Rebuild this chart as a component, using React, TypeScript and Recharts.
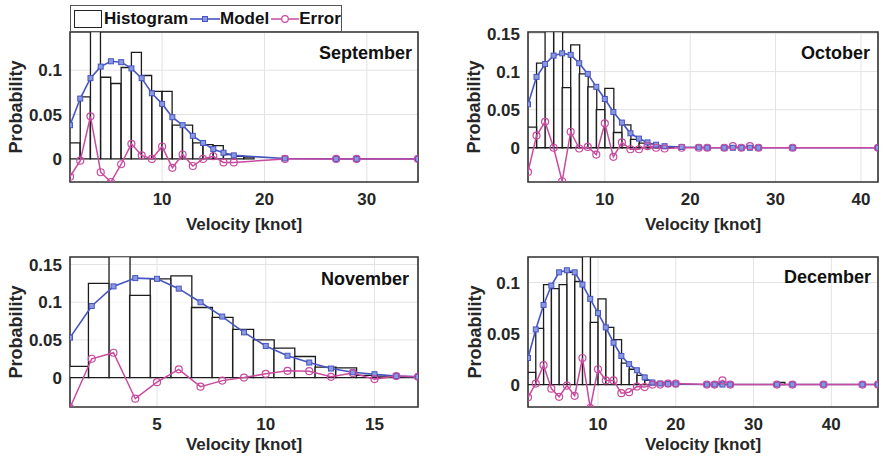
import React from 'react'
import { Bar, CartesianGrid, ComposedChart, Line, ReferenceArea, XAxis, YAxis } from 'recharts'

const FONT = '"Liberation Sans", Arial, Helvetica, sans-serif'
const INK = '#262626'
const BLUE = '#4655c2'
const MAGENTA = '#c94a9f'

// September
const SEP_VELOCITY = [1, 2, 3, 4, 5, 6, 7, 8, 9, 10, 11, 12, 13, 14, 15, 16, 17, 22, 27, 29, 35]
const SEP_MODEL = [0.038, 0.068, 0.091, 0.104, 0.11, 0.109, 0.102, 0.091, 0.074, 0.062, 0.047, 0.038, 0.026, 0.018, 0.011, 0.007, 0.004, 0.0005, 0, 0, 0]
const SEP_ERROR = [-0.02, -0.002, 0.048, -0.015, -0.026, -0.006, 0.017, 0.004, 0, 0.014, -0.01, 0.005, -0.008, 0, 0.003, -0.004, -0.004, 0, 0, 0, 0]
const SEP_BINS = [1.5, 2.5, 3.5, 4.5, 5.5, 6.5, 7.5, 8.5, 9.5, 10.5, 11.5, 12.5, 13.5, 14.5, 15.5, 16.5, 17.5, 18.5]
const SEP_HIST = [0.018, 0.07, 0.16, 0.092, 0.085, 0.103, 0.12, 0.094, 0.076, 0.076, 0.038, 0.038, 0.018, 0.016, 0.015, 0.005, 0.003, 0.002]

// October
const OCT_VELOCITY = [1, 2, 3, 4, 5, 6, 7, 8, 9, 10, 11, 12, 13, 14, 15, 16, 17, 19, 21, 22, 24, 25, 26, 27, 28, 32, 42]
const OCT_MODEL = [0.057, 0.093, 0.11, 0.121, 0.124, 0.122, 0.111, 0.097, 0.08, 0.064, 0.047, 0.033, 0.019, 0.012, 0.007, 0.004, 0.002, 0.001, 0.0005, 0, 0, 0, 0, 0, 0, 0, 0]
const OCT_ERROR = [-0.032, 0.016, 0.034, 0, -0.044, 0.021, -0.001, 0.001, -0.009, 0.032, -0.012, 0.007, -0.002, -0.002, 0.002, 0, -0.001, 0, 0, 0, 0, 0.002, 0, 0.002, 0, 0, 0]
const OCT_BINS = [1.5, 2.5, 3.5, 4.5, 5.5, 6.5, 7.5, 8.5, 9.5, 10.5, 11.5, 12.5, 13.5, 14.5, 15.5, 16.5, 17.5]
const OCT_HIST = [0.027, 0.111, 0.17, 0.175, 0.079, 0.135, 0.097, 0.08, 0.05, 0.078, 0.02, 0.03, 0.011, 0.006, 0.005, 0.002, 0.001]

// November
const NOV_VELOCITY = [1, 2, 3, 4, 5, 6, 7, 8, 9, 10, 11, 12, 13, 14, 15, 16, 17]
const NOV_MODEL = [0.053, 0.095, 0.121, 0.132, 0.131, 0.118, 0.1, 0.081, 0.06, 0.042, 0.029, 0.02, 0.012, 0.007, 0.0045, 0.002, 0.001]
const NOV_ERROR = [-0.04, 0.025, 0.033, -0.028, -0.006, 0.011, -0.012, -0.004, 0, 0.005, 0.009, 0.0085, 0.001, 0.006, -0.002, 0.002, 0.001]
const NOV_BINS = [1.374, 2.321, 3.268, 4.215, 5.162, 6.109, 7.056, 8.003, 8.95, 9.897, 10.844, 11.791, 12.738, 13.685, 14.632, 15.579, 16.526]
const NOV_HIST = [0.015, 0.125, 0.175, 0.109, 0.131, 0.135, 0.093, 0.08, 0.064, 0.05, 0.039, 0.028, 0.014, 0.013, 0.003, 0.002, 0.001]

// December
const DEC_VELOCITY = [1, 2, 3, 4, 5, 6, 7, 8, 9, 10, 11, 12, 13, 14, 15, 16, 17, 18, 19, 20, 24, 25, 26, 27, 33, 35, 39, 44, 46]
const DEC_MODEL = [0.026, 0.054, 0.078, 0.097, 0.11, 0.112, 0.11, 0.098, 0.084, 0.07, 0.056, 0.041, 0.028, 0.02, 0.014, 0.007, 0.002, 0.001, 0.0005, 0.0003, 0, 0, 0, 0, 0, 0, 0, 0, 0]
const DEC_ERROR = [-0.0125, 0.001, 0.019, -0.004, -0.012, -0.001, -0.011, 0.026, -0.023, 0.015, 0.004, 0.004, -0.0085, -0.0075, -0.002, -0.0025, 0, 0, 0.001, 0.001, 0, 0, 0.004, 0, 0, 0, 0, 0, 0]
const DEC_BINS = [1.5, 2.5, 3.5, 4.5, 5.5, 6.5, 7.5, 8.5, 9.5, 10.5, 11.5, 12.5, 13.5, 14.5, 15.5, 16.5, 17.5, 18.5, 19.5, 25.5, 33.5]
const DEC_HIST = [0.012, 0.055, 0.098, 0.094, 0.098, 0.11, 0.101, 0.135, 0.061, 0.084, 0.056, 0.044, 0.021, 0.015, 0.009, 0.004, 0.002, 0.002, 0.001, 0.001, 0.002]

type PanelProps = {
  title: string
  velocity: number[]
  model: number[]
  error: number[]
  bins: number[]
  hist: number[]
  xDomain: [number, number]
  yDomain: [number, number]
  xTicks: number[]
  yTicks: number[]
  left: number
  top: number
  width: number
  height: number
  marginTop: number
  marginRight: number
  yAxisWidth: number
  xAxisHeight: number
  xLabelOffset: number
  yLabelOffset: number
}

const tickStyle = { fill: INK, fontSize: 17, fontWeight: 700, fontFamily: FONT }

const SquareDot = (props: any) => {
  const { cx, cy, index } = props
  if (cx == null || cy == null) return <g key={`s${index}`} />
  return (
    <rect key={`s${index}`} x={cx - 2.5} y={cy - 2.5} width={5} height={5}
      fill="#8c98e0" stroke={BLUE} strokeWidth={1} />
  )
}

function Panel(p: PanelProps) {
  const bars = p.bins.map((c, i) => ({ c, h: p.hist[i] }))
  const modelPts = p.velocity.map((x, i) => ({ x, y: p.model[i] }))
  const errorPts = p.velocity.map((x, i) => ({ x, y: p.error[i] }))

  return (
    <div style={{ position: 'absolute', left: p.left, top: p.top, width: p.width, height: p.height }}>
      <ComposedChart
        width={p.width}
        height={p.height}
        data={bars}
        margin={{ top: p.marginTop, right: p.marginRight, left: 0, bottom: 0 }}
        barCategoryGap={0}
        barGap={0}
      >
        <CartesianGrid stroke="#e3e3e3" strokeWidth={1} />
        <XAxis
          type="number"
          dataKey="x"
          domain={p.xDomain}
          ticks={p.xTicks}
          allowDataOverflow
          interval={0}
          height={p.xAxisHeight}
          tickLine={false}
          axisLine={false}
          tickMargin={5}
          tick={tickStyle}
          label={{
            value: 'Velocity [knot]',
            position: 'insideBottom',
            offset: p.xLabelOffset,
            fill: INK,
            fontSize: 17,
            fontWeight: 700,
            fontFamily: FONT,
          }}
        />
        <XAxis xAxisId="bins" type="number" dataKey="c" domain={p.xDomain} allowDataOverflow hide />
        <YAxis
          type="number"
          domain={p.yDomain}
          ticks={p.yTicks}
          allowDataOverflow
          interval={0}
          width={p.yAxisWidth}
          tickLine={false}
          axisLine={false}
          tick={tickStyle}
          label={{
            value: 'Probability',
            angle: -90,
            position: 'insideLeft',
            offset: p.yLabelOffset,
            fill: INK,
            fontSize: 18,
            fontWeight: 700,
            fontFamily: FONT,
            style: { textAnchor: 'middle' },
          }}
        />
        <Bar
          xAxisId="bins"
          dataKey="h"
          fill="#ffffff"
          fillOpacity={0.6}
          stroke="#1c1c1c"
          strokeWidth={1.3}
          isAnimationActive={false}
        />
        <Line
          data={modelPts}
          dataKey="y"
          stroke={BLUE}
          strokeWidth={1.6}
          dot={SquareDot}
          activeDot={false}
          isAnimationActive={false}
        />
        <Line
          data={errorPts}
          dataKey="y"
          stroke={MAGENTA}
          strokeWidth={1.5}
          dot={{ r: 3.5, fill: 'none', stroke: MAGENTA, strokeWidth: 1.2 }}
          activeDot={false}
          isAnimationActive={false}
        />
        <ReferenceArea
          x1={p.xDomain[0]}
          x2={p.xDomain[1]}
          y1={p.yDomain[0]}
          y2={p.yDomain[1]}
          fill="none"
          stroke="#333333"
          strokeWidth={1.6}
          ifOverflow="visible"
        />
      </ComposedChart>
    </div>
  )
}

const titleStyle = {
  position: 'absolute' as const,
  fontFamily: FONT,
  fontSize: 18,
  fontWeight: 700,
  lineHeight: '18px',
  color: '#111',
  textAlign: 'right' as const,
  whiteSpace: 'nowrap' as const,
}

const legendText = { fontFamily: FONT, fontSize: 17, fontWeight: 700, color: '#111', lineHeight: '20px' }

function LegendBox() {
  return (
    <div
      style={{
        position: 'absolute',
        left: 70,
        top: 5,
        width: 270,
        height: 25,
        border: '1.5px solid #555',
        background: '#fff',
        display: 'flex',
        alignItems: 'center',
        boxSizing: 'content-box',
      }}
    >
      <div style={{ width: 26, height: 16, border: '1.3px solid #222', marginLeft: 3, marginRight: 2 }} />
      <span style={legendText}>Histogram</span>
      <svg width={30} height={12} style={{ marginLeft: 2 }}>
        <line x1={0} y1={6} x2={30} y2={6} stroke={BLUE} strokeWidth={1.6} />
        <rect x={12.5} y={3.5} width={5} height={5} fill="#8c98e0" stroke={BLUE} strokeWidth={1} />
      </svg>
      <span style={legendText}>Model</span>
      <svg width={28} height={12} style={{ marginLeft: 2 }}>
        <line x1={0} y1={6} x2={28} y2={6} stroke={MAGENTA} strokeWidth={1.5} />
        <circle cx={14} cy={6} r={3.3} fill="#fff" stroke={MAGENTA} strokeWidth={1.2} />
      </svg>
      <span style={legendText}>Error</span>
    </div>
  )
}

export default function App() {
  return (
    <div style={{ position: 'absolute', left: 0, top: 0, width: 884, height: 464, background: '#fff', overflow: 'hidden' }}>
      <Panel
        title="September"
        velocity={SEP_VELOCITY}
        model={SEP_MODEL}
        error={SEP_ERROR}
        bins={SEP_BINS}
        hist={SEP_HIST}
        xDomain={[1, 35]}
        yDomain={[-0.026, 0.143]}
        xTicks={[10, 20, 30]}
        yTicks={[0, 0.05, 0.1]}
        left={0}
        top={0}
        width={440}
        height={244}
        marginTop={32}
        marginRight={22}
        yAxisWidth={70}
        xAxisHeight={62}
        xLabelOffset={14}
        yLabelOffset={16}
      />
      <Panel
        title="October"
        velocity={OCT_VELOCITY}
        model={OCT_MODEL}
        error={OCT_ERROR}
        bins={OCT_BINS}
        hist={OCT_HIST}
        xDomain={[1, 42]}
        yDomain={[-0.045, 0.152]}
        xTicks={[10, 20, 30, 40]}
        yTicks={[0, 0.05, 0.1, 0.15]}
        left={440}
        top={0}
        width={444}
        height={244}
        marginTop={32}
        marginRight={6}
        yAxisWidth={88}
        xAxisHeight={62}
        xLabelOffset={14}
        yLabelOffset={34}
      />
      <Panel
        title="November"
        velocity={NOV_VELOCITY}
        model={NOV_MODEL}
        error={NOV_ERROR}
        bins={NOV_BINS}
        hist={NOV_HIST}
        xDomain={[1, 17]}
        yDomain={[-0.039, 0.16]}
        xTicks={[5, 10, 15]}
        yTicks={[0, 0.05, 0.1, 0.15]}
        left={0}
        top={232}
        width={440}
        height={232}
        marginTop={25}
        marginRight={22}
        yAxisWidth={70}
        xAxisHeight={57}
        xLabelOffset={14}
        yLabelOffset={16}
      />
      <Panel
        title="December"
        velocity={DEC_VELOCITY}
        model={DEC_MODEL}
        error={DEC_ERROR}
        bins={DEC_BINS}
        hist={DEC_HIST}
        xDomain={[1, 46]}
        yDomain={[-0.022, 0.125]}
        xTicks={[10, 20, 30, 40]}
        yTicks={[0, 0.05, 0.1]}
        left={440}
        top={232}
        width={444}
        height={232}
        marginTop={25}
        marginRight={6}
        yAxisWidth={88}
        xAxisHeight={57}
        xLabelOffset={14}
        yLabelOffset={35}
      />
      <div style={{ ...titleStyle, left: 300, width: 112, top: 44 }}>September</div>
      <div style={{ ...titleStyle, left: 760, width: 110, top: 44 }}>October</div>
      <div style={{ ...titleStyle, left: 300, width: 109, top: 270 }}>November</div>
      <div style={{ ...titleStyle, left: 760, width: 111, top: 268 }}>December</div>
      <LegendBox />
    </div>
  )
}
